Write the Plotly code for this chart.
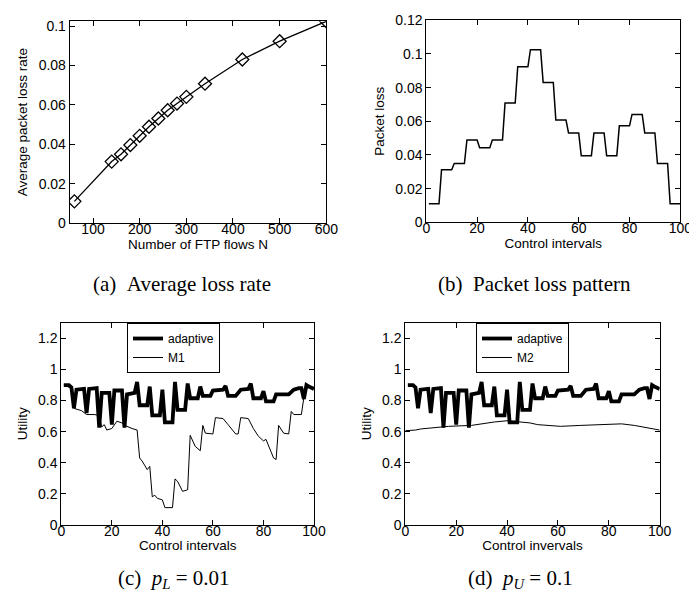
import plotly.graph_objects as go

# ---------------- data ----------------
# (a) average packet loss rate vs number of FTP flows
flows_N = [60, 140, 160, 180, 200, 220, 240, 260, 280, 300, 340, 420, 500, 600]
avg_loss = [0.011, 0.0312, 0.0349, 0.0396, 0.0443, 0.0489, 0.0531, 0.0573,
            0.0607, 0.0641, 0.0708, 0.0831, 0.0924, 0.1025]

# (b) packet loss pattern (step-like, per control interval)
loss_x = [1, 5, 6, 10, 11, 15, 16, 20, 21, 25, 26, 30, 31, 35, 36, 40, 41, 45, 46, 50,
          51, 55, 56, 60, 61, 65, 66, 70, 71, 75, 76, 80, 81, 85, 86, 90, 91, 95, 96, 100]
loss_y = [0.011, 0.011, 0.0312, 0.0312, 0.0349, 0.0349, 0.0489, 0.0489, 0.0443, 0.0443,
          0.0489, 0.0489, 0.0708, 0.0708, 0.0924, 0.0924, 0.1025, 0.1025, 0.0831, 0.0831,
          0.0607, 0.0607, 0.0531, 0.0531, 0.0396, 0.0396, 0.0531, 0.0531, 0.0396, 0.0396,
          0.0573, 0.0573, 0.0641, 0.0641, 0.0531, 0.0531, 0.0349, 0.0349, 0.011, 0.011]

# (c)/(d) adaptive utility
adapt_x = [1, 3, 4, 5, 6, 9, 10, 11, 14, 15, 16, 19, 20, 21, 24, 25, 26, 29, 30, 31,
           34, 35, 36, 39, 40, 41, 44, 45, 46, 49, 50, 51, 54, 55, 56, 59, 60, 64, 65, 66,
           69, 71, 74, 75, 76, 79, 80, 81, 84, 85, 90, 92, 94, 95, 96, 97, 98, 100]
adapt_y = [0.90, 0.90, 0.885, 0.75, 0.87, 0.875, 0.72, 0.875, 0.88, 0.625, 0.85, 0.85,
           0.645, 0.865, 0.865, 0.625, 0.84, 0.85, 0.92, 0.77, 0.77, 0.89, 0.705, 0.705,
           0.87, 0.66, 0.66, 0.92, 0.74, 0.74, 0.91, 0.815, 0.815, 0.89, 0.83, 0.83, 0.865,
           0.87, 0.895, 0.83, 0.83, 0.87, 0.875, 0.91, 0.815, 0.815, 0.86, 0.795, 0.795,
           0.84, 0.84, 0.87, 0.88, 0.88, 0.81, 0.90, 0.89, 0.875]

# (c) M1 utility
m1_x = [1, 4, 5, 8, 10, 13, 15, 16, 17, 18, 20, 21, 22, 24, 26, 28, 30, 31, 32, 34, 35,
        36, 37, 38, 40, 41, 44, 45, 46, 48, 50, 51, 53, 55, 56, 57, 60, 61, 64, 66, 67,
        69, 70, 71, 74, 76, 78, 80, 81, 82, 83, 84, 85, 86, 88, 90, 91, 92, 95, 96, 97, 98, 100]
m1_y = [0.90, 0.88, 0.75, 0.735, 0.71, 0.71, 0.705, 0.63, 0.645, 0.61, 0.62, 0.645,
        0.667, 0.656, 0.634, 0.62, 0.61, 0.43, 0.41, 0.355, 0.376, 0.18, 0.19, 0.17,
        0.16, 0.11, 0.11, 0.295, 0.28, 0.215, 0.225, 0.576, 0.505, 0.477, 0.64, 0.59,
        0.585, 0.69, 0.684, 0.645, 0.624, 0.585, 0.585, 0.69, 0.684, 0.62, 0.57, 0.54,
        0.55, 0.505, 0.47, 0.43, 0.42, 0.64, 0.59, 0.585, 0.73, 0.71, 0.71, 0.82, 0.87,
        0.90, 0.88]

# (d) M2 utility
m2_x = [0, 4, 6, 12, 17, 26, 30, 35, 40, 46, 49, 52, 56, 61, 69, 77, 85, 90, 95, 100]
m2_y = [0.606, 0.61, 0.617, 0.628, 0.634, 0.64, 0.65, 0.662, 0.67, 0.662, 0.656, 0.645,
        0.64, 0.634, 0.64, 0.645, 0.65, 0.64, 0.624, 0.61]

# ---------------- figure ----------------
W, H = 697, 595
SANS = "Liberation Sans, Arial, sans-serif"
SERIF = "Liberation Serif, Times New Roman, serif"

fig = go.Figure()

fig.add_trace(go.Scatter(x=flows_N, y=avg_loss, mode="lines+markers",
                         line=dict(color="black", width=1.3),
                         marker=dict(symbol="diamond-open", size=10, color="black",
                                     line=dict(width=1.3)),
                         xaxis="x", yaxis="y", showlegend=False))
fig.add_trace(go.Scatter(x=loss_x, y=loss_y, mode="lines",
                         line=dict(color="black", width=1.5),
                         xaxis="x2", yaxis="y2", showlegend=False))
fig.add_trace(go.Scatter(x=m1_x, y=m1_y, mode="lines", name="M1",
                         line=dict(color="black", width=1),
                         xaxis="x3", yaxis="y3", legend="legend", legendrank=2))
fig.add_trace(go.Scatter(x=adapt_x, y=adapt_y, mode="lines", name="adaptive",
                         line=dict(color="black", width=3.8),
                         xaxis="x3", yaxis="y3", legend="legend", legendrank=1))
fig.add_trace(go.Scatter(x=m2_x, y=m2_y, mode="lines", name="M2",
                         line=dict(color="black", width=1),
                         xaxis="x4", yaxis="y4", legend="legend2", legendrank=2))
fig.add_trace(go.Scatter(x=adapt_x, y=adapt_y, mode="lines", name="adaptive",
                         line=dict(color="black", width=3.8),
                         xaxis="x4", yaxis="y4", legend="legend2", legendrank=1))


def px_x(a, b):
    return [a / W, b / W]


def px_y(top, bottom):
    return [1 - bottom / H, 1 - top / H]


def ax(domain, rng, dtick, title, is_x, tick0=0):
    d = dict(domain=domain, range=rng, dtick=dtick, tick0=tick0,
             showgrid=False, zeroline=False, showline=True, linecolor="black",
             linewidth=1, mirror="allticks", ticks="inside", ticklen=5,
             tickcolor="black", tickwidth=1,
             tickfont=dict(family=SANS, size=14, color="black"),
             title=dict(text=title, font=dict(family=SANS, size=13.5, color="black"),
                        standoff=1 if is_x else 7),
             automargin=False)
    if is_x:
        d["ticklabelstandoff"] = -7
    return d


fig.update_layout(
    width=W, height=H,
    margin=dict(l=0, r=0, t=0, b=0),
    paper_bgcolor="white", plot_bgcolor="white",
    xaxis=ax(px_x(61.7, 318.3), [50, 600], 100, "Number of FTP flows N", True),
    yaxis=ax(px_y(13.3, 215), [0, 0.1025], 0.02, "Average packet loss rate", False),
    xaxis2=ax(px_x(418.3, 672.3), [0, 100], 20, "Control intervals", True),
    yaxis2=ax(px_y(12.3, 214.3), [0, 0.12], 0.02, "Packet loss", False),
    xaxis3=ax(px_x(53.3, 306), [0, 100], 20, "Control intervals", True),
    yaxis3=ax(px_y(315, 516.7), [0, 1.3], 0.2, "Utility", False),
    xaxis4=ax(px_x(397.3, 651.7), [0, 100], 20, "Control invervals", True),
    yaxis4=ax(px_y(315, 516.7), [0, 1.3], 0.2, "Utility", False),
    legend=dict(x=119 / W, y=1 - 315 / H, xanchor="left", yanchor="top",
                bgcolor="white", bordercolor="black", borderwidth=1,
                font=dict(family=SANS, size=12, color="black"),
                itemwidth=30, tracegroupgap=0, traceorder="normal"),
    legend2=dict(x=468 / W, y=1 - 315 / H, xanchor="left", yanchor="top",
                 bgcolor="white", bordercolor="black", borderwidth=1,
                 font=dict(family=SANS, size=12, color="black"),
                 itemwidth=30, tracegroupgap=0, traceorder="normal"),
)
for k in ["yaxis", "yaxis2", "yaxis3", "yaxis4"]:
    fig.layout[k].anchor = "x" + k[5:]
for k in ["xaxis", "xaxis2", "xaxis3", "xaxis4"]:
    fig.layout[k].anchor = "y" + k[5:]

captions = [
    ("(a)\u00a0\u00a0Average loss rate", 174, 276),
    ("(b)\u00a0\u00a0Packet loss pattern", 526, 276),
    ("(c)\u00a0\u00a0<i>p</i><sub><i>L</i></sub> = 0.01", 166, 571),
    ("(d)\u00a0\u00a0<i>p</i><sub><i>U</i></sub> = 0.1", 512, 571),
]
for txt, cx, cy in captions:
    fig.add_annotation(text=txt, x=cx / W, y=1 - cy / H, xref="paper", yref="paper",
                       xanchor="center", yanchor="middle", showarrow=False,
                       font=dict(family=SERIF, size=21, color="black"))

fig.write_html("out.html")
